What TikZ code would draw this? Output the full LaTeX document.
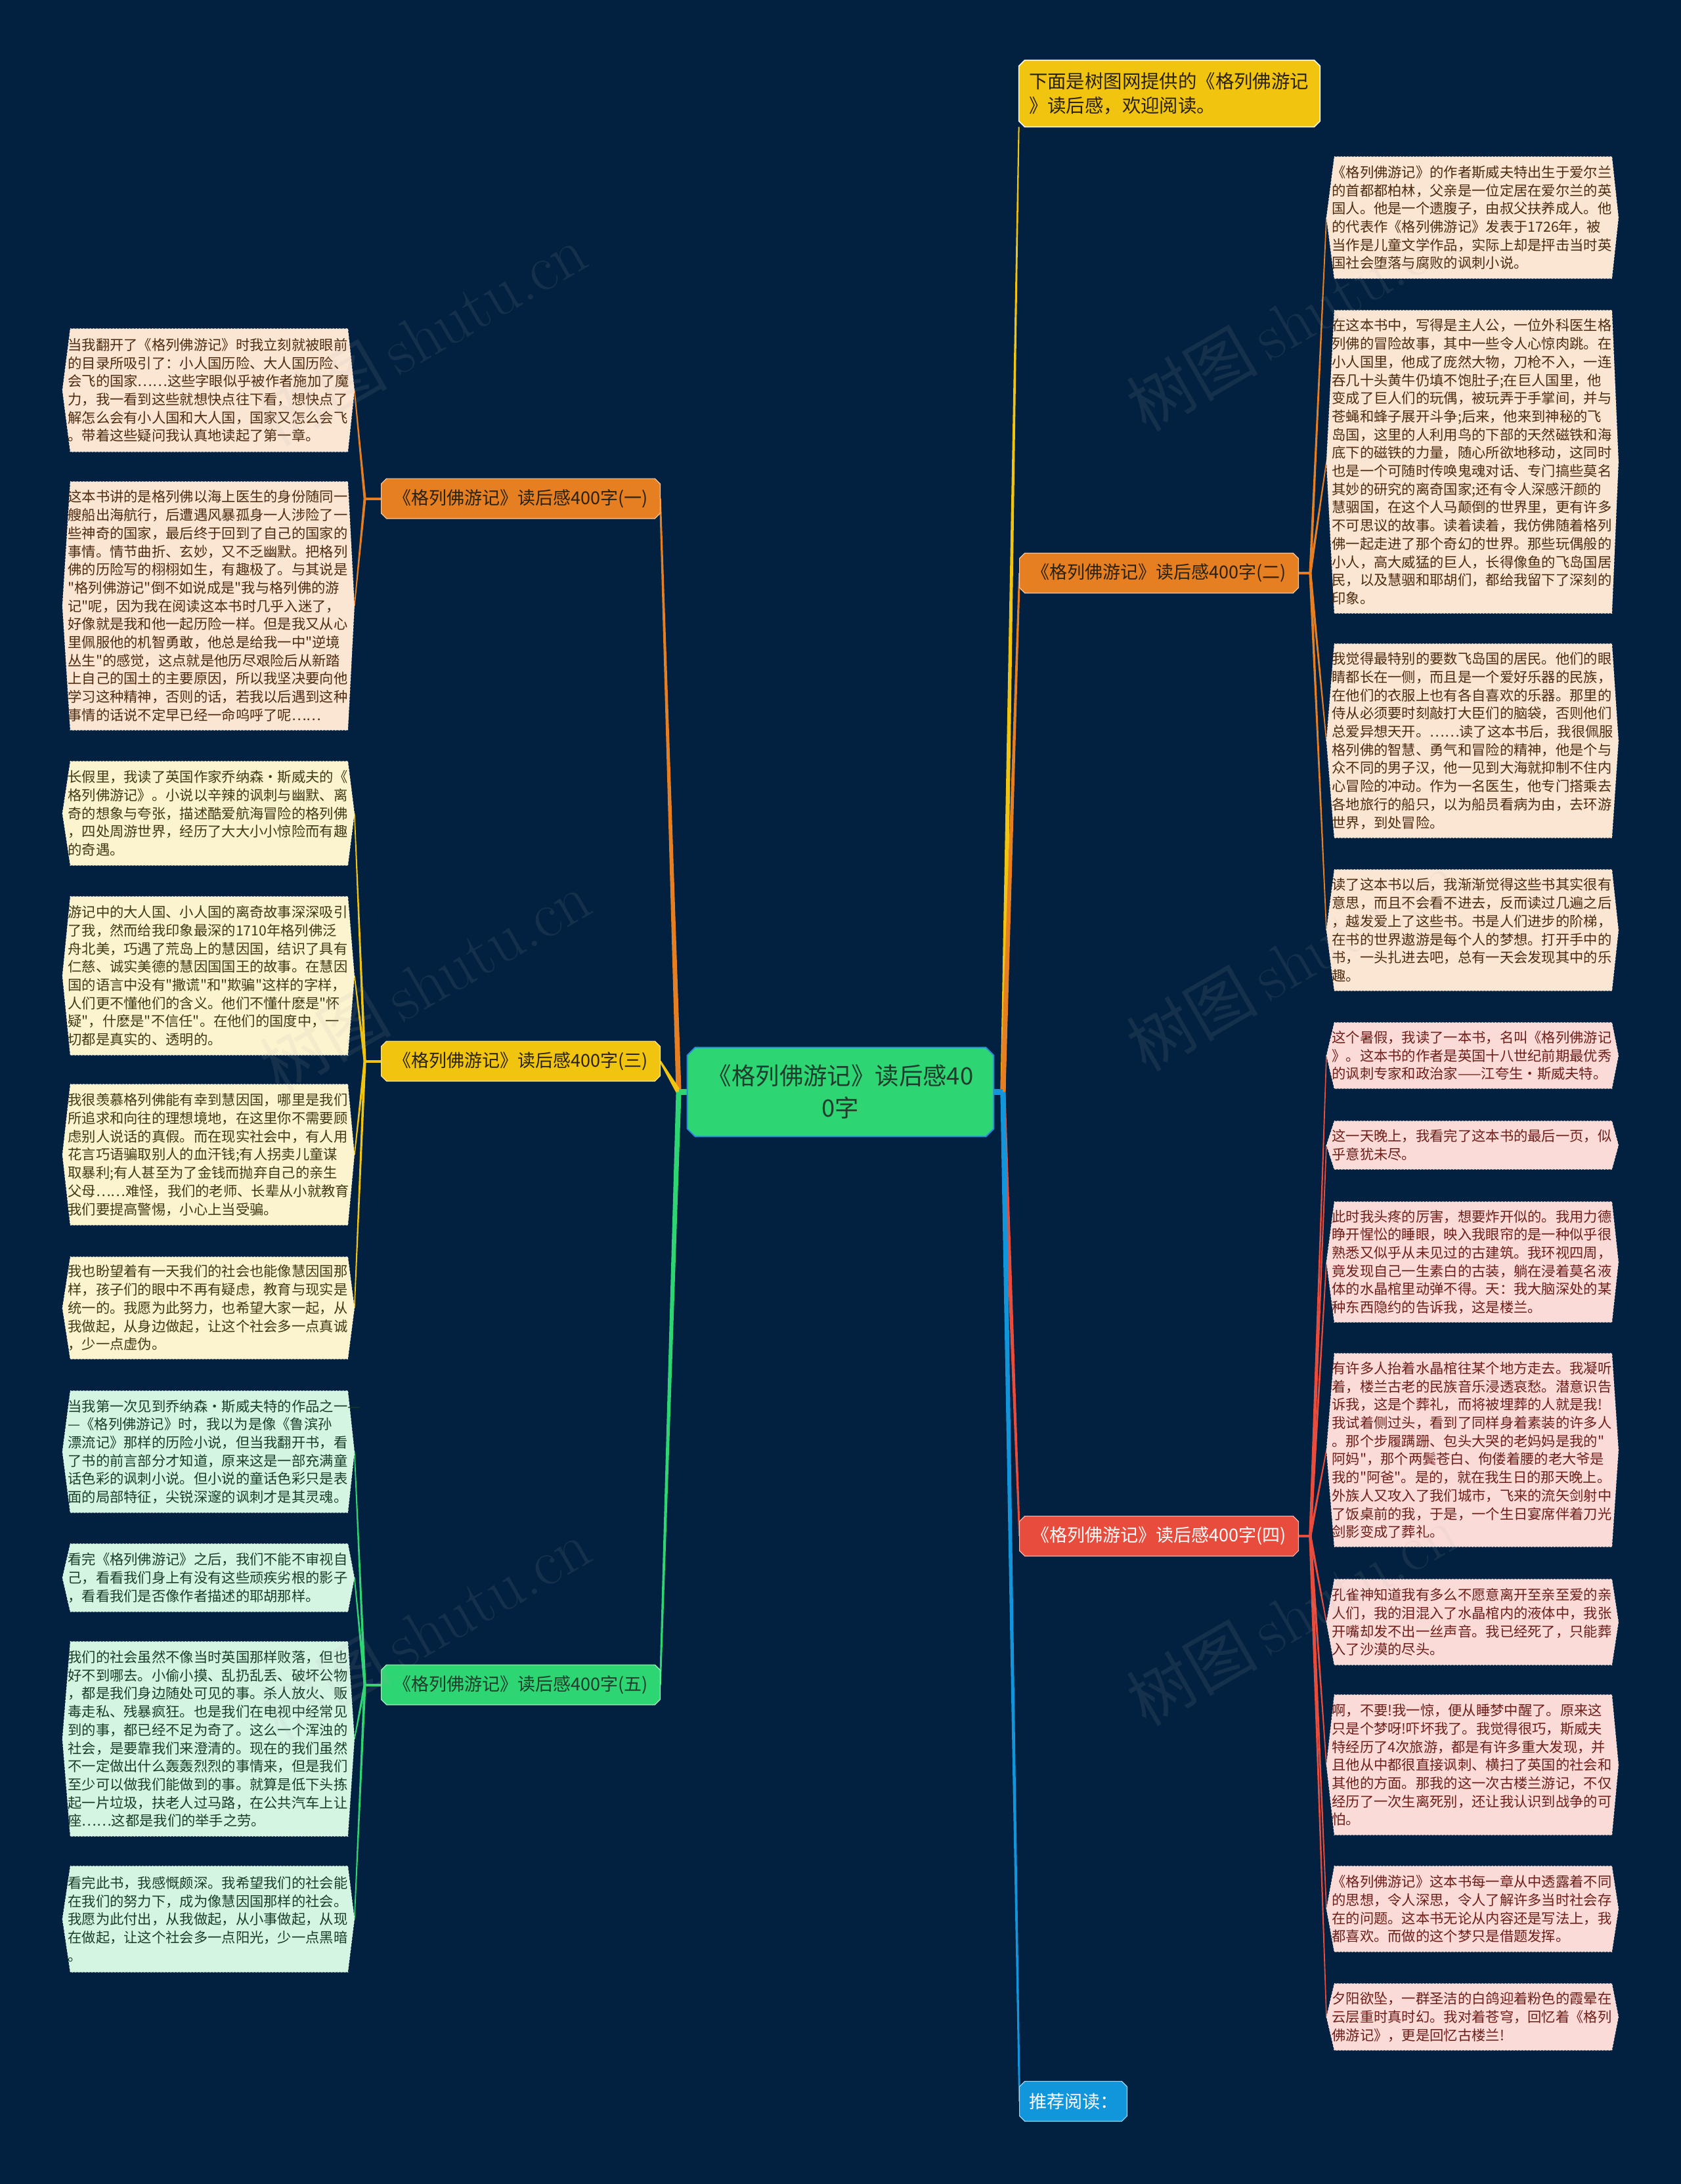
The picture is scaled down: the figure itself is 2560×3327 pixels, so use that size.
\documentclass[tikz,border=0pt]{standalone}
\usepackage{fontspec}
\newfontfamily\cjk{Noto Sans CJK SC}
\usetikzlibrary{calc}
\pgfdeclarelayer{bgl}
\pgfdeclarelayer{conn}
\pgfdeclarelayer{hex}
\pgfsetlayers{bgl,conn,hex,main}
\definecolor{bgc}{HTML}{02203F}
\definecolor{cOr}{HTML}{E67E22}
\definecolor{cYe}{HTML}{F1C40F}
\definecolor{cGr}{HTML}{2ED573}
\definecolor{cRe}{HTML}{E74C3C}
\definecolor{cBl}{HTML}{1296DB}
\definecolor{cRootB}{HTML}{2A8AE0}
\definecolor{fPe}{HTML}{FBE5D3}
\definecolor{fCr}{HTML}{FCF3CF}
\definecolor{fMi}{HTML}{D5F5E3}
\definecolor{fPk}{HTML}{FADBD8}
\definecolor{tPe}{HTML}{4D2B0F}
\definecolor{tCr}{HTML}{3F3A12}
\definecolor{tMi}{HTML}{1A3D28}
\definecolor{tPk}{HTML}{6E1E18}
\definecolor{tDark}{HTML}{2A2210}
\definecolor{tRoot}{HTML}{1F3D2C}
\tikzset{
  leaf/.style={anchor=west, text width=215pt, align=left, inner sep=0pt,
    font=\cjk\fontsize{10.65}{13.85}\selectfont},
  ltpe/.style={text=tPe}, ltcr/.style={text=tCr}, ltmi/.style={text=tMi}, ltpk/.style={text=tPk},
  hexbase/.style={draw=white, dotted, line width=0.5pt},
  lfpe/.style={hexbase, fill=fPe}, lfcr/.style={hexbase, fill=fCr},
  lfmi/.style={hexbase, fill=fMi}, lfpk/.style={hexbase, fill=fPk},
  branchbox/.style={inner sep=0pt, minimum width=212pt, minimum height=30pt,
    font=\cjk\fontsize{13.5}{15}\selectfont},
  wm/.style={text=gray!60, text opacity=0.11, font=\fontsize{50}{55}\selectfont, rotate=30}
}
\newcommand\leafnode[6]{%
  \node[leaf,lt#5,minimum height={(#4-#3)*0.5pt}] (#1) at (#2,{(#3+#4)/2}) {#6};
  \coordinate (#1-l) at ($(#1.west)+(-8,0)$);
  \coordinate (#1-r) at ($(#1.east)+(6,0)$);
  \begin{pgfonlayer}{hex}
  \path[lf#5] ($(#1.north west)+(4,0)$) -- ($(#1.north east)+(-4,0)$) -- (#1-r)
     -- ($(#1.south east)+(-4,0)$) -- ($(#1.south west)+(4,0)$) -- (#1-l) -- cycle;
  \end{pgfonlayer}}
\newcommand\chamf[3]{%
  \begin{pgfonlayer}{hex}
  \path[#3] ($(#1.north west)+(#2,0)$) -- ($(#1.north east)+(-#2,0)$) -- ($(#1.north east)+(0,#2)$)
    -- ($(#1.south east)+(0,-#2)$) -- ($(#1.south east)+(-#2,0)$) -- ($(#1.south west)+(#2,0)$)
    -- ($(#1.south west)+(0,-#2)$) -- ($(#1.north west)+(0,#2)$) -- cycle;
  \end{pgfonlayer}}
\newcommand\taper[5]{%
  \begin{pgfonlayer}{conn}
  \fill[#3] ($(#1)!#4!90:(#2)$) -- ($(#2)!#5!-90:(#1)$) -- ($(#2)!#5!90:(#1)$) -- ($(#1)!#4!-90:(#2)$) -- cycle;
  \end{pgfonlayer}}
\begin{document}
\begin{tikzpicture}[x=0.5pt,y=-0.5pt]
\useasboundingbox (0,0) rectangle (2560,3327);
\begin{pgfonlayer}{bgl}
\fill[bgc] (0,0) rectangle (2560,3327);
\end{pgfonlayer}

% root
\node[inner sep=0pt, minimum width=233pt, minimum height=67.5pt, align=center, text=tRoot,
  font=\cjk\fontsize{18.2}{24.5}\selectfont] (root) at (1280,1663.5) {《格列佛游记》读后感40\\0字};
\chamf{root}{12}{fill=cGr, draw=cRootB, line width=1pt}

% top note
\node[inner ysep=0pt, inner xsep=7.5pt, text width=214pt, minimum height=50.5pt, align=left, text=tDark,
  font=\cjk\fontsize{14.2}{18.5}\selectfont] (top) at (1781,142.5) {下面是树图网提供的《格列佛游记\\》读后感，欢迎阅读。};
\chamf{top}{9}{fill=cYe, draw=white, line width=0.8pt}

% branches
\node[branchbox, text=tDark] (b1) at (793,759.5) {《格列佛游记》读后感400字(一)};
\chamf{b1}{8}{fill=cOr, draw=white!60!cOr, line width=0.6pt}
\node[branchbox, text=tDark] (b3) at (793,1616.5) {《格列佛游记》读后感400字(三)};
\chamf{b3}{8}{fill=cYe, draw=white!60!cYe, line width=0.6pt}
\node[branchbox, text=tRoot] (b5) at (793,2566.5) {《格列佛游记》读后感400字(五)};
\chamf{b5}{8}{fill=cGr, draw=white!60!cGr, line width=0.6pt}
\node[branchbox, text=tDark] (b2) at (1765,873) {《格列佛游记》读后感400字(二)};
\chamf{b2}{8}{fill=cOr, draw=white!60!cOr, line width=0.6pt}
\node[branchbox, text=white] (b4) at (1765,2340) {《格列佛游记》读后感400字(四)};
\chamf{b4}{8}{fill=cRe, draw=white!60!cRe, line width=0.6pt}
\node[branchbox, minimum width=81.5pt, text=white] (rec) at (1634.5,3201) {推荐阅读：};
\chamf{rec}{8}{fill=cBl, draw=white!60!cBl, line width=0.6pt}

% left leaves
\leafnode{L1}{103}{501}{688}{pe}{当我翻开了《格列佛游记》时我立刻就被眼前\\的目录所吸引了：小人国历险、大人国历险、\\会飞的国家……这些字眼似乎被作者施加了魔\\力，我一看到这些就想快点往下看，想快点了\\解怎么会有小人国和大人国，国家又怎么会飞\\。带着这些疑问我认真地读起了第一章。}
\leafnode{L2}{103}{734}{1112}{pe}{这本书讲的是格列佛以海上医生的身份随同一\\艘船出海航行，后遭遇风暴孤身一人涉险了一\\些神奇的国家，最后终于回到了自己的国家的\\事情。情节曲折、玄妙，又不乏幽默。把格列\\佛的历险写的栩栩如生，有趣极了。与其说是\\"格列佛游记"倒不如说成是"我与格列佛的游\\记"呢，因为我在阅读这本书时几乎入迷了，\\好像就是我和他一起历险一样。但是我又从心\\里佩服他的机智勇敢，他总是给我一中"逆境\\丛生"的感觉，这点就是他历尽艰险后从新踏\\上自己的国土的主要原因，所以我坚决要向他\\学习这种精神，否则的话，若我以后遇到这种\\事情的话说不定早已经一命呜呼了呢……}
\leafnode{L3}{103}{1160}{1318}{cr}{长假里，我读了英国作家乔纳森•斯威夫的《\\格列佛游记》。小说以辛辣的讽刺与幽默、离\\奇的想象与夸张，描述酷爱航海冒险的格列佛\\，四处周游世界，经历了大大小小惊险而有趣\\的奇遇。}
\leafnode{L4}{103}{1366}{1607}{cr}{游记中的大人国、小人国的离奇故事深深吸引\\了我，然而给我印象最深的1710年格列佛泛\\舟北美，巧遇了荒岛上的慧因国，结识了具有\\仁慈、诚实美德的慧因国国王的故事。在慧因\\国的语言中没有"撒谎"和"欺骗"这样的字样，\\人们更不懂他们的含义。他们不懂什麽是"怀\\疑"，什麽是"不信任"。在他们的国度中，一\\切都是真实的、透明的。}
\leafnode{L5}{103}{1652}{1866}{cr}{我很羡慕格列佛能有幸到慧因国，哪里是我们\\所追求和向往的理想境地，在这里你不需要顾\\虑别人说话的真假。而在现实社会中，有人用\\花言巧语骗取别人的血汗钱;有人拐卖儿童谋\\取暴利;有人甚至为了金钱而抛弃自己的亲生\\父母……难怪，我们的老师、长辈从小就教育\\我们要提高警惕，小心上当受骗。}
\leafnode{L6}{103}{1915}{2070}{cr}{我也盼望着有一天我们的社会也能像慧因国那\\样，孩子们的眼中不再有疑虑，教育与现实是\\统一的。我愿为此努力，也希望大家一起，从\\我做起，从身边做起，让这个社会多一点真诚\\，少一点虚伪。}
\leafnode{L7}{103}{2119}{2304}{mi}{\mbox{当我第一次见到乔纳森·斯威夫特的作品之一—}\\—《格列佛游记》时，我以为是像《鲁滨孙\\漂流记》那样的历险小说，但当我翻开书，看\\了书的前言部分才知道，原来这是一部充满童\\话色彩的讽刺小说。但小说的童话色彩只是表\\面的局部特征，尖锐深邃的讽刺才是其灵魂。}
\leafnode{L8}{103}{2352}{2455}{mi}{看完《格列佛游记》之后，我们不能不审视自\\己，看看我们身上有没有这些顽疾劣根的影子\\，看看我们是否像作者描述的耶胡那样。}
\leafnode{L9}{103}{2501}{2797}{mi}{我们的社会虽然不像当时英国那样败落，但也\\好不到哪去。小偷小摸、乱扔乱丢、破坏公物\\，都是我们身边随处可见的事。杀人放火、贩\\毒走私、残暴疯狂。也是我们在电视中经常见\\到的事，都已经不足为奇了。这么一个浑浊的\\社会，是要靠我们来澄清的。现在的我们虽然\\不一定做出什么轰轰烈烈的事情来，但是我们\\至少可以做我们能做到的事。就算是低下头拣\\起一片垃圾，扶老人过马路，在公共汽车上让\\座……这都是我们的举手之劳。}
\leafnode{L10}{103}{2843}{3004}{mi}{看完此书，我感慨颇深。我希望我们的社会能\\在我们的努力下，成为像慧因国那样的社会。\\我愿为此付出，从我做起，从小事做起，从现\\在做起，让这个社会多一点阳光，少一点黑暗\\。}

% right leaves
\leafnode{R1}{2028}{239}{424}{pe}{《格列佛游记》的作者斯威夫特出生于爱尔兰\\的首都都柏林，父亲是一位定居在爱尔兰的英\\国人。他是一个遗腹子，由叔父扶养成人。他\\的代表作《格列佛游记》发表于1726年，被\\当作是儿童文学作品，实际上却是抨击当时英\\国社会堕落与腐败的讽刺小说。}
\leafnode{R2}{2028}{473}{934}{pe}{在这本书中，写得是主人公，一位外科医生格\\列佛的冒险故事，其中一些令人心惊肉跳。在\\小人国里，他成了庞然大物，刀枪不入，一连\\吞几十头黄牛仍填不饱肚子;在巨人国里，他\\变成了巨人们的玩偶，被玩弄于手掌间，并与\\苍蝇和蜂子展开斗争;后来，他来到神秘的飞\\岛国，这里的人利用鸟的下部的天然磁铁和海\\底下的磁铁的力量，随心所欲地移动，这同时\\也是一个可随时传唤鬼魂对话、专门搞些莫名\\其妙的研究的离奇国家;还有令人深感汗颜的\\慧骃国，在这个人马颠倒的世界里，更有许多\\不可思议的故事。读着读着，我仿佛随着格列\\佛一起走进了那个奇幻的世界。那些玩偶般的\\小人，高大威猛的巨人，长得像鱼的飞岛国居\\民，以及慧骃和耶胡们，都给我留下了深刻的\\印象。}
\leafnode{R3}{2028}{981}{1276}{pe}{我觉得最特别的要数飞岛国的居民。他们的眼\\睛都长在一侧，而且是一个爱好乐器的民族，\\在他们的衣服上也有各自喜欢的乐器。那里的\\侍从必须要时刻敲打大臣们的脑袋，否则他们\\总爱异想天开。……读了这本书后，我很佩服\\格列佛的智慧、勇气和冒险的精神，他是个与\\众不同的男子汉，他一见到大海就抑制不住内\\心冒险的冲动。作为一名医生，他专门搭乘去\\各地旅行的船只，以为船员看病为由，去环游\\世界，到处冒险。}
\leafnode{R4}{2028}{1325}{1509}{pe}{读了这本书以后，我渐渐觉得这些书其实很有\\意思，而且不会看不进去，反而读过几遍之后\\，越发爱上了这些书。书是人们进步的阶梯，\\在书的世界遨游是每个人的梦想。打开手中的\\书，一头扎进去吧，总有一天会发现其中的乐\\趣。}
\leafnode{R5}{2028}{1558}{1658}{pk}{这个暑假，我读了一本书，名叫《格列佛游记\\》。这本书的作者是英国十八世纪前期最优秀\\的讽刺专家和政治家——江夸生·斯威夫特。}
\leafnode{R6}{2028}{1708}{1781}{pk}{这一天晚上，我看完了这本书的最后一页，似\\乎意犹未尽。}
\leafnode{R7}{2028}{1831}{2014}{pk}{此时我头疼的厉害，想要炸开似的。我用力德\\睁开惺忪的睡眼，映入我眼帘的是一种似乎很\\熟悉又似乎从未见过的古建筑。我环视四周，\\竟发现自己一生素白的古装，躺在浸着莫名液\\体的水晶棺里动弹不得。天：我大脑深处的某\\种东西隐约的告诉我，这是楼兰。}
\leafnode{R8}{2028}{2062}{2356}{pk}{有许多人抬着水晶棺往某个地方走去。我凝听\\着，楼兰古老的民族音乐浸透哀愁。潜意识告\\诉我，这是个葬礼，而将被埋葬的人就是我!\\我试着侧过头，看到了同样身着素装的许多人\\。那个步履蹒跚、包头大哭的老妈妈是我的"\\阿妈"，那个两鬓苍白、佝偻着腰的老大爷是\\我的"阿爸"。是的，就在我生日的那天晚上。\\外族人又攻入了我们城市，飞来的流矢剑射中\\了饭桌前的我，于是，一个生日宴席伴着刀光\\剑影变成了葬礼。}
\leafnode{R9}{2028}{2406}{2536}{pk}{孔雀神知道我有多么不愿意离开至亲至爱的亲\\人们，我的泪混入了水晶棺内的液体中，我张\\开嘴却发不出一丝声音。我已经死了，只能葬\\入了沙漠的尽头。}
\leafnode{R10}{2028}{2582}{2795}{pk}{啊，不要!我一惊，便从睡梦中醒了。原来这\\只是个梦呀!吓坏我了。我觉得很巧，斯威夫\\特经历了4次旅游，都是有许多重大发现，并\\且他从中都很直接讽刺、横扫了英国的社会和\\其他的方面。那我的这一次古楼兰游记，不仅\\经历了一次生离死别，还让我认识到战争的可\\怕。}
\leafnode{R11}{2028}{2843}{2973}{pk}{《格列佛游记》这本书每一章从中透露着不同\\的思想，令人深思，令人了解许多当时社会存\\在的问题。这本书无论从内容还是写法上，我\\都喜欢。而做的这个梦只是借题发挥。}
\leafnode{R12}{2028}{3022}{3123}{pk}{夕阳欲坠，一群圣洁的白鸽迎着粉色的霞晕在\\云层重时真时幻。我对着苍穹，回忆着《格列\\佛游记》，更是回忆古楼兰!}

% junctions
\coordinate (JL) at ($(root.west)+(-13,0)$);
\coordinate (JR) at ($(root.east)+(14,0)$);
\coordinate (b1j) at ($(b1.west)+(-25,0)$);
\coordinate (b3j) at ($(b3.west)+(-25,0)$);
\coordinate (b5j) at ($(b5.west)+(-25,0)$);
\coordinate (b2j) at ($(b2.east)+(18,0)$);
\coordinate (b4j) at ($(b4.east)+(18,0)$);

% root connectors
\taper{JL}{b1.east}{cOr}{2pt}{0.7pt}
\taper{JL}{b3.east}{cYe}{2pt}{0.7pt}
\taper{JL}{b5.east}{cGr}{2pt}{0.7pt}
\taper{JR}{top.south west}{cYe}{2pt}{0.5pt}
\taper{JR}{b2.west}{cOr}{2pt}{0.7pt}
\taper{JR}{b4.west}{cRe}{2pt}{0.7pt}
\taper{JR}{rec.west}{cBl}{2pt}{0.7pt}
\begin{pgfonlayer}{conn}
\draw[cGr, line width=4.5pt] (root.west) -- (JL);
\draw[cBl, line width=4.5pt] (root.east) -- (JR);
\draw[cOr, line width=2pt] (b1.west) -- (b1j);
\draw[cYe, line width=2pt] (b3.west) -- (b3j);
\draw[cGr, line width=2pt] (b5.west) -- (b5j);
\draw[cOr, line width=2pt] (b2.east) -- (b2j);
\draw[cRe, line width=2pt] (b4.east) -- (b4j);
\end{pgfonlayer}

% branch to leaves
\foreach \l in {L1,L2}{\taper{b1j}{\l-r}{cOr}{1pt}{0.4pt}}
\foreach \l in {L3,L4,L5,L6}{\taper{b3j}{\l-r}{cYe}{1pt}{0.4pt}}
\foreach \l in {L7,L8,L9,L10}{\taper{b5j}{\l-r}{cGr}{1pt}{0.4pt}}
\foreach \l in {R1,R2,R3,R4}{\taper{b2j}{\l-l}{cOr}{1pt}{0.4pt}}
\foreach \l in {R5,R6,R7,R8,R9,R10,R11,R12}{\taper{b4j}{\l-l}{cRe}{1pt}{0.4pt}}

% watermarks
\foreach \p [count=\i] in {(641,510),(647,1495),(647,2482),(1967,488),(1967,1463),(1967,2460)}{
  \node[wm] (wm\i) at \p {{\cjk 树图}\,shutu.cn};
}
\end{tikzpicture}
\end{document}
